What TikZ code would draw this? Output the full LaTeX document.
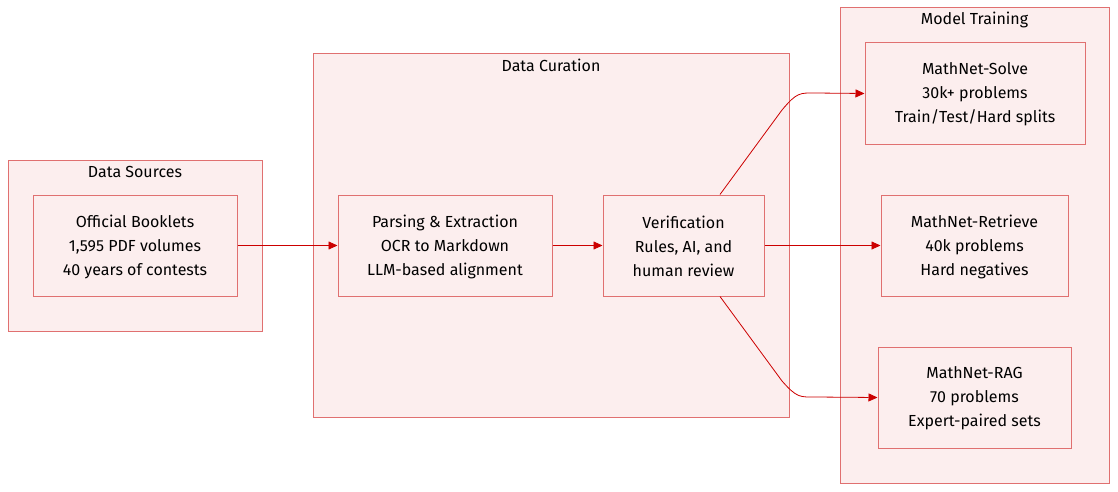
\documentclass[tikz,border=0pt]{standalone}
\usepackage{fontspec}
\setmainfont{Fira Sans}
\usetikzlibrary{arrows.meta,calc}
\definecolor{bordc}{HTML}{E07070}
\definecolor{fillc}{HTML}{FCEEEE}
\definecolor{edgec}{HTML}{CC0000}
\tikzset{
  cluster/.style={draw=bordc, fill=fillc, line width=1pt},
  boxnode/.style={draw=bordc, fill=fillc, line width=1pt, inner sep=0pt, minimum height=101pt},
  ctitle/.style={font=\fontsize{16}{18}\selectfont, anchor=center, inner sep=0pt},
  boxtext/.style={align=center, inner sep=0pt, font=\fontsize{16}{24}\selectfont},
  flow/.style={draw=edgec, line width=0.8pt, -{Triangle[length=9pt,width=8pt]}},
}
\begin{document}
\begin{tikzpicture}[x=1pt,y=-1pt]
\useasboundingbox (0,0) rectangle (1118,492);
% clusters
\draw[cluster] (8,160) rectangle (262,331);
\node[ctitle] (tsrc) at (135,171.5) {Data Sources};
\draw[cluster] (313,54) rectangle (789,417);
\node[ctitle] (tcur) at (551,65.5) {Data Curation};
\draw[cluster] (840,8) rectangle (1109,483);
\node[ctitle] (ttrn) at (974.5,19.5) {Model Training};
% nodes
\node[boxnode, minimum width=204pt] (book) at (135,245.5) {};
\node[boxtext] (bookt) at ($(book)+(0,1)$) {Official Booklets\\1,595 PDF volumes\\40 years of contests};
\node[boxnode, minimum width=214pt] (pars) at (445,245.5) {};
\node[boxtext] (parst) at ($(pars)+(0,1)$) {Parsing \& Extraction\\OCR to Markdown\\LLM-based alignment};
\node[boxnode, minimum width=161pt] (verif) at (683.5,245.5) {};
\node[boxtext] (veriflabel) at ($(verif)+(0,1)$) {Verification\\Rules, AI, and\\human review};
\node[boxnode, minimum width=220pt] (solve) at (975,93.5) {};
\node[boxtext] (solvet) at ($(solve)+(0,1)$) {MathNet-Solve\\30k+ problems\\Train/Test/Hard splits};
\node[boxnode, minimum width=187pt] (retr) at (974.5,245.5) {};
\node[boxtext] (retrt) at ($(retr)+(0,1)$) {MathNet-Retrieve\\40k problems\\Hard negatives};
\node[boxnode, minimum width=193pt] (rag) at (974.5,397.5) {};
\node[boxtext] (ragt) at ($(rag)+(0,1)$) {MathNet-RAG\\70 problems\\Expert-paired sets};
% edges
\draw[flow] (book.east) -- (pars.west);
\draw[flow] (pars.east) -- (verif.west);
\draw[flow] (verif.east) -- (retr.west);
\coordinate (vt) at ($(verif.north)+(36.5,0)$);
\coordinate (vb) at ($(verif.south)+(36.5,0)$);
\draw[flow] (vt) -- (782,110) .. controls (797,92) and (800,93) .. (815,93) -- (solve.west);
\draw[flow] (vb) -- (782,381) .. controls (797,398) and (800,397) .. (815,397) -- (rag.west);
\end{tikzpicture}
\end{document}
